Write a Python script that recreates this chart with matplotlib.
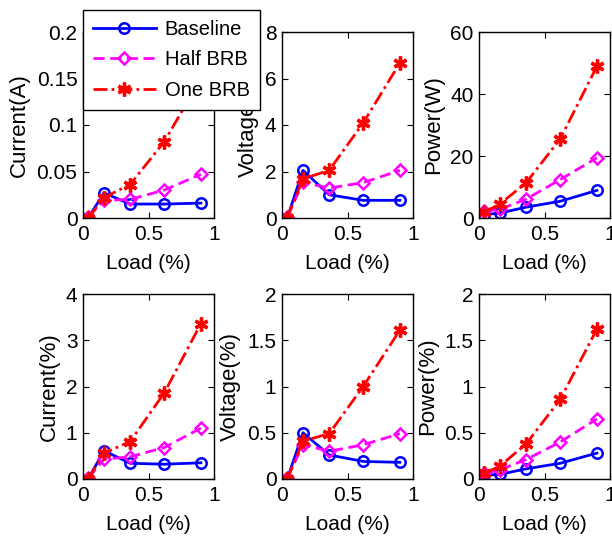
import matplotlib
matplotlib.use("Agg")
import matplotlib.pyplot as plt

plt.rcParams['font.family'] = ['Liberation Sans', 'DejaVu Sans']

load = [0.04, 0.16, 0.36, 0.62, 0.90]
series_names = ["Baseline", "Half BRB", "One BRB"]

current_a = {"Baseline": [0.0, 0.027, 0.015, 0.015, 0.016],
             "Half BRB": [0.001, 0.019, 0.020, 0.030, 0.047],
             "One BRB": [0.0, 0.022, 0.036, 0.082, 0.15]}
voltage_v = {"Baseline": [0.0, 2.05, 1.0, 0.76, 0.76],
             "Half BRB": [0.05, 1.53, 1.29, 1.52, 2.05],
             "One BRB": [0.0, 1.68, 2.05, 4.09, 6.67]}
power_w = {"Baseline": [1.1, 1.6, 3.5, 5.4, 8.9],
           "Half BRB": [2.3, 2.8, 6.1, 12.4, 19.4],
           "One BRB": [1.9, 4.5, 11.4, 25.5, 48.9]}
current_p = {"Baseline": [0.0, 0.61, 0.34, 0.32, 0.35],
             "Half BRB": [0.02, 0.43, 0.48, 0.68, 1.10],
             "One BRB": [0.0, 0.56, 0.81, 1.86, 3.36]}
voltage_p = {"Baseline": [0.0, 0.50, 0.26, 0.19, 0.18],
             "Half BRB": [0.01, 0.37, 0.30, 0.37, 0.49],
             "One BRB": [0.0, 0.41, 0.49, 1.00, 1.61]}
power_p = {"Baseline": [0.04, 0.05, 0.11, 0.17, 0.28],
           "Half BRB": [0.06, 0.10, 0.21, 0.40, 0.65],
           "One BRB": [0.06, 0.14, 0.38, 0.86, 1.62]}

panels = [
    (current_a, "Current(A)", [0, 0.05, 0.1, 0.15, 0.2], ["0", "0.05", "0.1", "0.15", "0.2"], 0.2),
    (voltage_v, "Voltage(V)", [0, 2, 4, 6, 8], ["0", "2", "4", "6", "8"], 8),
    (power_w, "Power(W)", [0, 20, 40, 60], ["0", "20", "40", "60"], 60),
    (current_p, "Current(%)", [0, 1, 2, 3, 4], ["0", "1", "2", "3", "4"], 4),
    (voltage_p, "Voltage(%)", [0, 0.5, 1, 1.5, 2], ["0", "0.5", "1", "1.5", "2"], 2),
    (power_p, "Power(%)", [0, 0.5, 1, 1.5, 2], ["0", "0.5", "1", "1.5", "2"], 2),
]

styles = {
    "Baseline": dict(color=(0, 0, 1), linestyle='-', marker='o', markersize=7.5,
                     markerfacecolor='none', markeredgewidth=1.8),
    "Half BRB": dict(color=(1, 0, 1), linestyle=(0, (4, 2)), marker='D', markersize=6.5,
                     markerfacecolor='none', markeredgewidth=1.8),
    "One BRB": dict(color=(1, 0, 0), linestyle=(0, (5, 1.5, 1, 1.5)), marker=(6, 2, 0),
                    markersize=10, markeredgewidth=2.4),
}

FS_TICK = 15
FS_XLAB = 15
FS_YLAB = 16
FS_LEG = 14.5
W, H = 612, 540
fig = plt.figure(figsize=(W / 100, H / 100), dpi=100)

lefts = [83, 282, 479]
width = 131
rows = [(32, 218), (294, 479)]

axes = []
for i, (data, ylabel, yt, ytl, ymax) in enumerate(panels):
    r, c = divmod(i, 3)
    top, bot = rows[r]
    ax = fig.add_axes([lefts[c] / W, 1 - bot / H, width / W, (bot - top) / H])
    for name in series_names:
        ax.plot(load, data[name], linewidth=2, label=name, **styles[name])
    ax.set_xlim(0, 1)
    ax.set_ylim(0, ymax)
    ax.set_xticks([0, 0.5, 1])
    ax.set_xticklabels(["0", "0.5", "1"])
    ax.set_yticks(yt)
    ax.set_yticklabels(ytl)
    ax.tick_params(direction='in', top=True, right=True, labelsize=FS_TICK, length=4,
                   width=0.8)
    ax.tick_params(axis='x', pad=5)
    ax.tick_params(axis='y', pad=4)
    ax.set_xlabel("Load (%)", fontsize=FS_XLAB, labelpad=7)
    ax.set_ylabel(ylabel, fontsize=FS_YLAB, labelpad=4.5)
    for s in ax.spines.values():
        s.set_linewidth(1.0)
    axes.append(ax)

handles, labels = axes[0].get_legend_handles_labels()
leg = fig.legend(handles, labels, loc='upper left', bbox_to_anchor=(83 / W, 1 - 10 / H),
                 bbox_transform=fig.transFigure, fontsize=FS_LEG, frameon=True,
                 fancybox=False, edgecolor='black', framealpha=1,
                 handlelength=3.1, borderpad=0.5, labelspacing=0.56,
                 handletextpad=0.45, borderaxespad=0)
leg.get_frame().set_linewidth(1.0)
leg.set_zorder(10)

fig.savefig("out.png", dpi=100)
